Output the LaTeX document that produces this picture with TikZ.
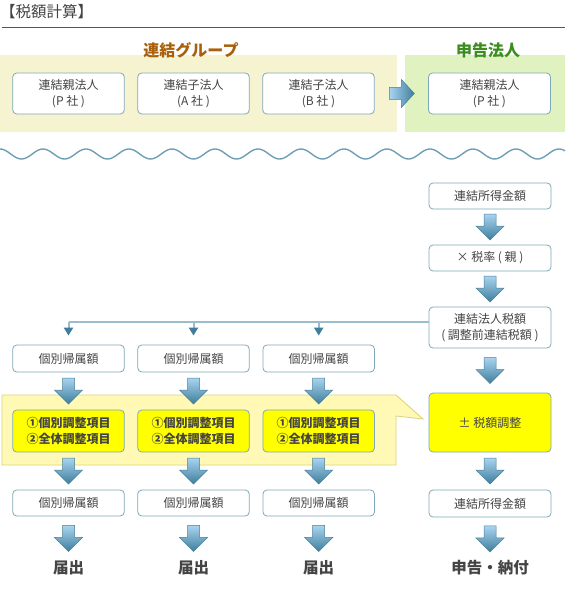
\documentclass[tikz,border=0pt]{standalone}
\usepackage{fontspec}
\setmainfont{Noto Sans CJK JP}
\usetikzlibrary{arrows.meta,calc,backgrounds}
\definecolor{txt}{HTML}{444444}
\definecolor{boxline}{HTML}{7FA8B8}
\definecolor{ybg}{HTML}{F6F3D1}
\definecolor{gbg}{HTML}{DFF2C0}
\definecolor{calfill}{HTML}{FFF9B5}
\definecolor{calline}{HTML}{DCD27A}
\definecolor{yfill}{HTML}{FFFF00}
\definecolor{arrlight}{HTML}{A8D4F0}
\definecolor{arrdark}{HTML}{3F7E9C}
\definecolor{arrline}{HTML}{4A7F96}
\definecolor{branchcol}{HTML}{9ABCCD}
\definecolor{wavecol}{HTML}{6E9FB4}
\definecolor{orgtitle}{HTML}{A8600A}
\definecolor{grntitle}{HTML}{3C8C1E}
\definecolor{rulecol}{HTML}{555555}
\begin{document}
\begin{tikzpicture}[x=1pt,y=-1pt,
  font=\fontsize{12}{16}\selectfont, text=txt,
  box/.style={draw=boxline, line width=0.8pt, rounded corners=4pt, fill=white,
    inner sep=0pt, align=center, minimum width=111.5pt},
  rbox/.style={box, minimum width=122pt},
  ybox/.style={box, fill=yfill, font=\fontsize{12}{16}\selectfont\bfseries},
  endtext/.style={font=\fontsize{15.5}{18}\selectfont\bfseries, inner sep=0pt},
  grouptitle/.style={font=\fontsize{16}{18}\selectfont\bfseries, inner sep=0pt},
  branch/.style={draw=branchcol, line width=2pt},
  drop/.style={draw=branchcol, line width=2pt, -{Triangle[width=9pt,length=8pt,color=arrdark]}},
  darr/.pic={\shade[top color=arrlight, bottom color=arrdark, draw=arrline, line width=0.5pt]
     (-6,-13) -- (6,-13) -- (6,-1) -- (14,-1) -- (0,13) -- (-14,-1) -- (-6,-1) -- cycle;},
  rarr/.pic={\shade[left color=arrlight, right color=arrdark, draw=arrline, line width=0.5pt]
     (-12,-6) -- (0,-6) -- (0,-14) -- (13,0) -- (0,14) -- (0,6) -- (-12,6) -- cycle;}
]
\useasboundingbox (0,0) rectangle (565,596);

% title and rule
\node[anchor=west, inner sep=0pt, font=\fontsize{15.5}{17}\selectfont] (title) at (0,12) {【税額計算】};
\coordinate (rulel) at (2,27.5);
\coordinate (ruler) at (565,27.5);
\draw[rulecol, line width=1.5pt] (rulel) -- (ruler);

% group titles
\node[grouptitle, text=orgtitle] (tgroup) at (191,50) {連結グループ};
\node[grouptitle, text=grntitle] (tfile) at (488,50) {申告法人};

% top row
\node[box, minimum height=41pt] (g1) at (68.5,93.5) {連結親法人\\(P 社 )};
\node[box, minimum height=41pt] (g2) at (193.5,93.5) {連結子法人\\(A 社 )};
\node[box, minimum height=41pt] (g3) at (318.5,93.5) {連結子法人\\(B 社 )};
\node[rbox, minimum height=41pt] (gp) at (489.5,93.5) {連結親法人\\(P 社 )};
\pic at ($(g3.east)!0.5!(gp.west)$) {rarr};

% wave
\draw[wavecol, line width=1.4pt] plot[domain=0:565, samples=300, smooth] (\x,{154-5*cos(8.372093*\x)});

% right column
\node[rbox, minimum height=26pt] (r1) at (490,196) {連結所得金額};
\node[rbox, minimum height=26pt] (r2) at (490,258) {× 税率 ( 親 )};
\node[rbox, minimum height=41pt] (r3) at (490,327.5) {連結法人税額\\( 調整前連結税額 )};
\node[rbox, minimum height=59pt, fill=yfill] (r4) at (490,422.5) {± 税額調整};
\node[rbox, minimum height=27pt] (r5) at (490,503.5) {連結所得金額};
\node[endtext] (rend) at (490,568) {申告・納付};

\pic at ($(r1.south)!0.5!(r2.north)$) {darr};
\pic at ($(r2.south)!0.5!(r3.north)$) {darr};
\pic at ($(r3.south)!0.5!(r4.north)$) {darr};
\pic at ($(r4.south)!0.5!(r5.north)$) {darr};
\pic at ($(r5.south)!0.5!(rend.north)$) {darr};

% left columns
\foreach \i/\cx in {1/68.5, 2/193.5, 3/318.7} {
  \node[box, minimum height=27pt] (a\i) at (\cx,358.5) {個別帰属額};
  \node[ybox, minimum height=42pt] (b\i) at (\cx,431) {①個別調整項目\\②全体調整項目};
  \node[box, minimum height=26pt] (c\i) at (\cx,503) {個別帰属額};
  \node[endtext] (e\i) at (\cx,568) {届出};
  \pic at ($(a\i.south)!0.5!(b\i.north)$) {darr};
  \pic at ($(b\i.south)!0.5!(c\i.north)$) {darr};
  \pic at ($(c\i.south)!0.5!(e\i.north)$) {darr};
}

% branch line
\coordinate (br) at ([yshift=6pt]r3.west);
\draw[branch] (br) -- (a1.north |- br);
\draw[drop] (a1.north |- br) -- ([yshift=9pt]a1.north);
\draw[drop] (a2.north |- br) -- ([yshift=9pt]a2.north);
\draw[drop] (a3.north |- br) -- ([yshift=9pt]a3.north);

% backgrounds
\begin{scope}[on background layer]
  \fill[ybg] (0,55) rectangle (397,132);
  \fill[gbg] (405,55) rectangle (565,132);
  \draw[fill=calfill, draw=calline, line width=0.8pt]
    (2,395) -- (396,395) -- (423,419) -- (396,416) -- (396,465) -- (2,465) -- cycle;
\end{scope}
\end{tikzpicture}
\end{document}
